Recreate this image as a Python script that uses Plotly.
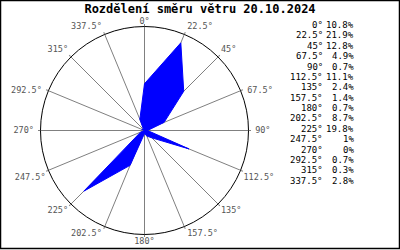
import plotly.graph_objects as go

directions = [0, 22.5, 45, 67.5, 90, 112.5, 135, 157.5, 180, 202.5, 225, 247.5, 270, 292.5, 315, 337.5]
percent = [10.8, 21.9, 12.8, 4.9, 0.7, 11.1, 2.4, 1.4, 0.7, 8.7, 19.8, 1, 0, 0.7, 0.3, 2.8]
title_text = "Rozdělení směru větru 20.10.2024"
angle_labels = [f"{d:g}°" for d in directions]
r_max = 24

W, H = 400, 250


def label_position(d):
    if d == 0:
        return "top center"
    if d < 67.5:
        return "top right"
    if d <= 90:
        return "middle right"
    if d < 180:
        return "bottom right"
    if d == 180:
        return "bottom center"
    if d < 270:
        return "bottom left"
    if d <= 292.5:
        return "middle left"
    return "top left"


def label_gap(d):
    pos = label_position(d)
    if pos == "top center":
        return 0
    if pos == "bottom center":
        return 3
    if pos.startswith("middle"):
        return 9
    return 3


fig = go.Figure()
fig.add_trace(go.Scatterpolar(
    r=percent + [percent[0]],
    theta=directions + [directions[0]],
    mode="lines",
    fill="toself",
    fillcolor="#0000ff",
    line=dict(color="#0000ff", width=1),
    hoverinfo="skip",
))

mono = "DejaVu Sans Mono"
fig.add_trace(go.Scatterpolar(
    r=[r_max] * len(directions),
    theta=directions,
    mode="markers+text",
    marker=dict(size=[label_gap(d) for d in directions], opacity=0),
    text=angle_labels,
    textposition=[label_position(d) for d in directions],
    textfont=dict(family=mono, size=8.5, color="#555555"),
    cliponaxis=False,
    hoverinfo="skip",
))

cx0, cx1 = 40.5 / W, 248.5 / W
cy0, cy1 = (H - 234.5) / H, (H - 26.5) / H

fig.update_layout(
    width=W, height=H,
    margin=dict(l=0, r=0, t=0, b=0),
    paper_bgcolor="white",
    plot_bgcolor="white",
    showlegend=False,
    title=dict(text="<b>" + title_text + "</b>", x=0.5, xanchor="center",
               y=1 - 9 / H, yanchor="middle", yref="container",
               font=dict(family=mono, size=12, color="black")),
    polar=dict(
        domain=dict(x=[cx0, cx1], y=[cy0, cy1]),
        bgcolor="white",
        radialaxis=dict(range=[0, r_max], visible=False, showgrid=False),
        angularaxis=dict(
            rotation=90, direction="clockwise",
            tickmode="array", tickvals=directions,
            showticklabels=False,
            showgrid=True, gridcolor="#808080", gridwidth=1,
            showline=True, linecolor="black", linewidth=1,
            ticks="outside", ticklen=2, tickcolor="#808080",
        ),
    ),
    shapes=[dict(type="rect", xref="paper", yref="paper",
                 x0=0.5 / W, x1=1 - 0.5 / W, y0=1.5 / H, y1=1 - 0.5 / H,
                 line=dict(color="black", width=1.5))],
)

row0 = 25.0
pitch = 10.38
for i, (d, p) in enumerate(zip(directions, percent)):
    yy = 1 - (row0 + i * pitch) / H
    fig.add_annotation(x=325 / W, y=yy, xref="paper", yref="paper",
                       text=f"{d:g}°", showarrow=False, xanchor="right", yanchor="middle",
                       font=dict(family=mono, size=9, color="black"))
    fig.add_annotation(x=355.5 / W, y=yy, xref="paper", yref="paper",
                       text=f"{p:g}%", showarrow=False, xanchor="right", yanchor="middle",
                       font=dict(family=mono, size=9, color="black"))

fig.write_html("out.html")
